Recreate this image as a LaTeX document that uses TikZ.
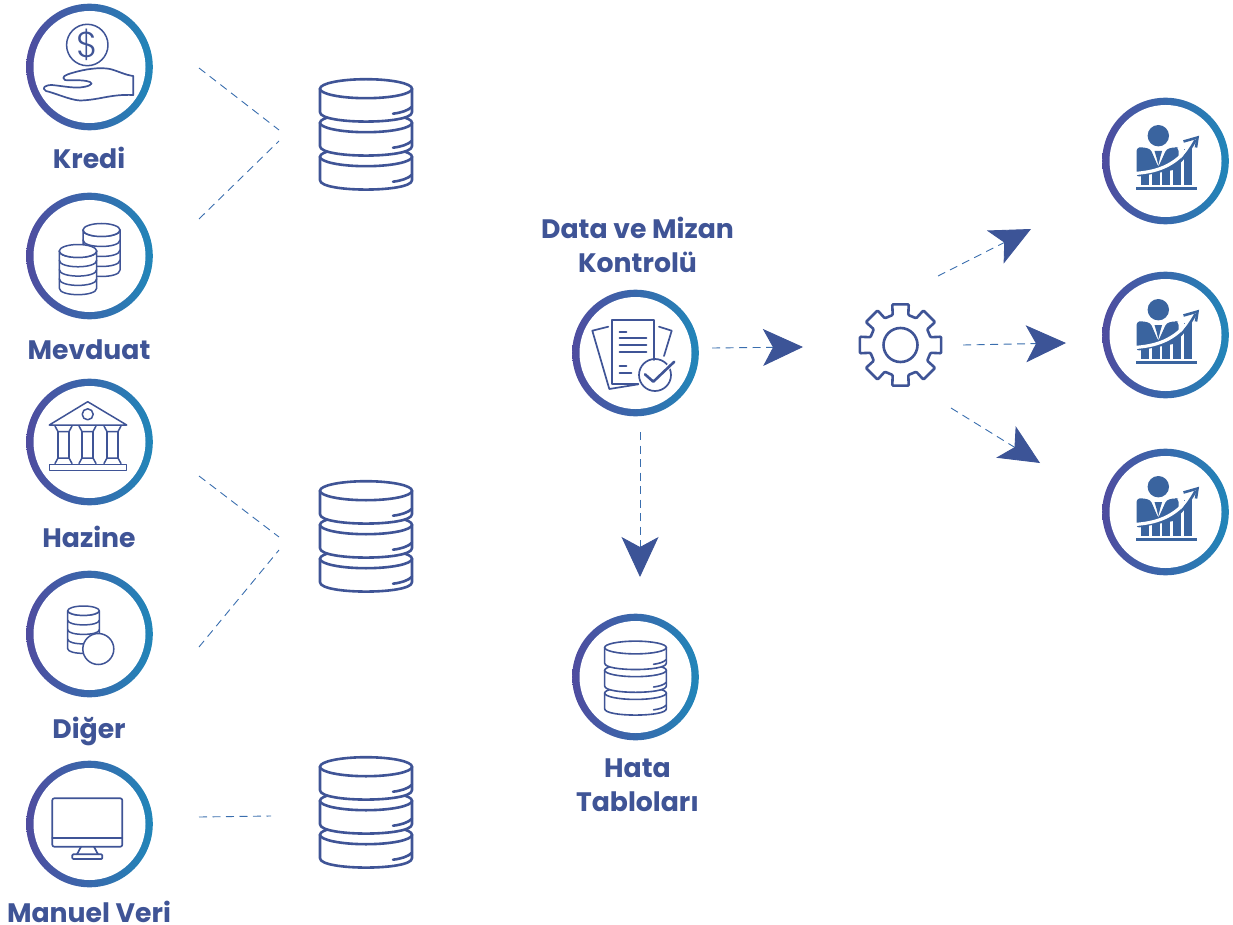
\documentclass[tikz,border=0pt]{standalone}
\usepackage{fontspec}
\setmainfont{Poppins}
\newfontface\dolarfont{Poppins Light}
\usetikzlibrary{arrows.meta, positioning}

\definecolor{ringleft}{HTML}{4F4C9F}
\definecolor{ringright}{HTML}{2186B9}
\definecolor{iconblue}{HTML}{3F5496}
\definecolor{chartblue}{HTML}{3A649F}
\definecolor{dashblue}{HTML}{3A6EAE}
\definecolor{tipblue}{HTML}{3C5497}

\newcommand{\dbdisc}[1]{
	\path[draw=iconblue, fill=white, line join=round]
		(-46,#1) -- (-46,{#1+23.5}) .. controls (-46,{#1+36}) and (46,{#1+36}) .. (46,{#1+23.5}) -- (46,#1) -- cycle;
	\path[draw=iconblue, fill=white] (0,#1) ellipse [x radius=46, y radius=9.5];
	\path[draw=iconblue, line cap=round] (27,{#1+25}) .. controls (35,{#1+24}) and (42,{#1+22}) .. (46,{#1+18});
}

\tikzset{
	ring/.style={circle, inner sep=0pt, minimum size=126.6pt, left color=ringleft, right color=ringright,
		path picture={\fill[white] (path picture bounding box.center) circle (56);}},
	title/.style={font=\fontsize{26.7}{34}\selectfont\bfseries, text=iconblue, align=center, inner sep=0pt},
	iconline/.style={draw=iconblue, line width=1.5pt, line join=round, line cap=round},
	feed/.style={draw=dashblue, line width=0.9pt, dash pattern=on 8pt off 5.5pt},
	flow/.style={feed, -{Stealth[length=40pt, width=37pt, inset=10pt, color=tipblue]}},
	pics/dbstack/.style={code={
		\dbdisc{68}
		\dbdisc{34}
		\dbdisc{0}
	}},
	pics/chart/.style={code={
		\fill[chartblue] (-7.2,-25.3) circle (10.7);
		\fill[chartblue, rounded corners=3pt] (-29,16) -- (-29,-13) -- (-24,-14) -- (-15,-12) -- (-7.2,6) -- (1,-12) -- (10,-14) -- (13,-13) -- (13,8) -- cycle;
		\fill[white] (-14.5,-13) -- (0.5,-13) -- (-7.2,5) -- cycle;
		\fill[chartblue] (-11,-10) -- (-3.4,-10) -- (-5.2,-4) -- (-7.2,4) -- (-9.2,-4) -- cycle;
		\fill[chartblue] (-25,13) rectangle (-17,24);
		\fill[chartblue] (-14,11) rectangle (-6,24);
		\fill[chartblue] (-3.5,6) rectangle (4.5,24);
		\fill[chartblue] (7,-4) rectangle (15,24);
		\fill[chartblue] (18,-12) rectangle (26,24);
		\fill[chartblue] (-29.5,26) rectangle (31.5,28.7);
		\draw[white, line width=3.2pt] (-31,12.5) .. controls (-12,11) and (10,7) .. (27,-19);
		\draw[chartblue, line width=2.6pt] (14,1) .. controls (20,-5) and (25,-12) .. (30,-21);
		\draw[chartblue, line width=2.6pt, line join=miter] (18,-19.5) -- (32,-23.5) -- (30.5,-13.5);
	}},
	pics/gear/.style={code={
		\draw[iconline, line width=2.6pt, rounded corners=1pt] (-14.5:31) -- (-11.5:41.5) -- (11.5:41.5) -- (14.5:31)
			\foreach \a in {45,90,...,315} { -- (\a-14.5:31) -- (\a-11.5:41.5) -- (\a+11.5:41.5) -- (\a+14.5:31) } -- cycle;
		\draw[iconline, line width=2.6pt] (0,0) circle (17);
	}}
}

\newcommand{\coinstack}[6]{
	\path[iconline, fill=white] ({#1-#3},#2) -- ({#1-#3},{#2+#5*#6}) .. controls ({#1-#3},{#2+#5*#6+1.33*#4}) and ({#1+#3},{#2+#5*#6+1.33*#4}) .. ({#1+#3},{#2+#5*#6}) -- ({#1+#3},#2) -- cycle;
	\foreach \k in {1,...,#5}
		\draw[iconline] ({#1-#3},{#2+(\k-1)*#6}) .. controls ({#1-#3},{#2+(\k-1)*#6+1.33*#4}) and ({#1+#3},{#2+(\k-1)*#6+1.33*#4}) .. ({#1+#3},{#2+(\k-1)*#6});
	\path[iconline, fill=white] (#1,#2) ellipse [x radius=#3, y radius=#4];
}

\begin{document}
\begin{tikzpicture}[x=1pt, y=-1pt]
	\useasboundingbox (0,0) rectangle (1233,925);

	\node[ring]		(kredi) at (89.5,67) {};
	\node[ring]		(mevduat) at (89.5,256) {};
	\node[ring]		(hazine) at (89.5,442) {};
	\node[ring]		(diger) at (89.5,634) {};
	\node[ring]		(manuel) at (89.5,824) {};
	\node[ring]		(kontrol) at (635.5,353) {};
	\node[ring]		(hata) at (635.5,677) {};
	\node[ring]		(rapor1) at (1165.5,161) {};
	\node[ring]		(rapor2) at (1165.5,335) {};
	\node[ring]		(rapor3) at (1165.5,512) {};

	\node[title]	(kredilabel) at (89,158) {Kredi};
	\node[title]	(mevduatlabel) at (89,349.5) {Mevduat};
	\node[title]	(hazinelabel) at (89,537) {Hazine};
	\node[title]	(digerlabel) at (89,731) {Diğer};
	\node[title]	(manuellabel) at (89,912) {Manuel Veri};
	\node[title]	(kontrollabel) at (637.5,245) {Data ve Mizan\\Kontrolü};
	\node[title]	(hatalabel) at (637.5,785) {Hata\\Tabloları};

	\pic[line width=2.6pt] at (366,88.7) {dbstack};
	\pic[line width=2.6pt] at (366,490.7) {dbstack};
	\pic[line width=2.6pt] at (366,766.7) {dbstack};
	\begin{scope}[shift={(635.5,647.5)}, scale=0.67, line width=1.6pt]
		\dbdisc{68}
		\dbdisc{34}
		\dbdisc{0}
	\end{scope}

	\pic at (1165.5,161) {chart};
	\pic at (1165.5,335) {chart};
	\pic at (1165.5,512) {chart};
	\pic at (900.5,345) {gear};

	% kredi
	\draw[iconline] (87.3,45) circle (20.7);
	\node[font=\dolarfont\fontsize{36}{36}\selectfont, text=iconblue, inner sep=0pt] (dolar) at (87.3,45) {\$};
	\draw[iconline, line width=1.7pt] (133.3,76) -- (133.3,95) .. controls (110,94) and (100,100) .. (80,100.5) .. controls (70,100) and (55,93) .. (46,91) .. controls (41,88) and (45,85) .. (52,85) .. controls (62,86) and (72,88) .. (80,87.5) .. controls (87,87) and (95,84) .. (90,82) .. controls (82,79) and (70,81) .. (65,80) .. controls (61,77) and (65,75) .. (72,73) .. controls (85,69) and (100,67) .. (110,69) .. controls (118,71) and (125,75) .. cycle;

	% mevduat
	\coinstack{101.5}{230}{18.5}{6.5}{4}{10}
	\coinstack{78}{251}{18.7}{6.5}{4}{9.3}

	% hazine
	\draw[iconline] (87.7,401.7) -- (49.3,425) -- (126.7,425) -- cycle;
	\draw[iconline] (87.7,414.3) circle (5.5);
	\draw[iconline] (49.3,464.3) rectangle (126.7,470.7);
	\draw[iconline] (55,426) -- (58,431.7) -- (69,431.7) -- (72,426);
	\draw[iconline] (79,426) -- (82,431.7) -- (93,431.7) -- (96,426);
	\draw[iconline] (104,426) -- (107,431.7) -- (118,431.7) -- (121,426);
	\draw[iconline] (58,431.7) -- (58,458) (69,431.7) -- (69,458);
	\draw[iconline] (82,431.7) -- (82,458) (93,431.7) -- (93,458);
	\draw[iconline] (107,431.7) -- (107,458) (118,431.7) -- (118,458);
	\draw[iconline] (55,463.5) -- (58,458) -- (69,458) -- (72,463.5);
	\draw[iconline] (79,463.5) -- (82,458) -- (93,458) -- (96,463.5);
	\draw[iconline] (104,463.5) -- (107,458) -- (118,458) -- (121,463.5);

	% diger
	\coinstack{83.5}{610.7}{15.8}{4.7}{4}{9.5}
	\path[iconline, fill=white] (98.3,649) circle (15.5);

	% manuel
	\draw[iconline, line width=1.7pt, rounded corners=2pt] (52.3,798.3) rectangle (122.3,846.7);
	\draw[iconline, line width=1.7pt] (52.3,838.3) -- (122.3,838.3);
	\draw[iconline, line width=1.7pt] (81,846.7) -- (77,854.3) (94,846.7) -- (98,854.3);
	\draw[iconline, line width=1.7pt, rounded corners=1pt] (72.3,854.3) rectangle (102.3,859);

	% kontrol
	\path[iconline, line width=1.7pt] (608.3,326.7) -- (592.3,330.7) -- (609.3,389) -- (638.3,384.3);
	\path[iconline, line width=1.7pt] (659,326.7) -- (671.7,330.7) -- (664,356);
	\path[iconline, line width=1.7pt] (654.3,360) -- (654.3,320) -- (612.3,320) -- (612.3,384.3) -- (638.3,384.3);
	\draw[iconline, line width=1.7pt] (619.5,331.7) -- (626.5,331.7) (619.5,338.3) -- (646.5,338.3) (619.5,345) -- (646.5,345) (619.5,351.7) -- (646.5,351.7) (619.5,366) -- (626.5,366) (619.5,372.7) -- (631.5,372.7);
	\path[iconline, line width=1.7pt] (655,375) circle (16);
	\draw[white, line width=5pt] (647,374.3) -- (653.3,381.7) -- (672,363.5);
	\draw[iconline, line width=2.6pt] (645,374.3) -- (653.3,381.7) -- (674.3,361.7);

	\coordinate (sol1a) at (199,68);
	\coordinate (sol1b) at (279,130);
	\coordinate (sol2a) at (199,219);
	\coordinate (sol2b) at (279,141);
	\coordinate (sol3a) at (199,476);
	\coordinate (sol3b) at (279,537);
	\coordinate (sol4a) at (199,647);
	\coordinate (sol4b) at (279,550);
	\coordinate (sol5a) at (199,817);
	\coordinate (sol5b) at (271,816);
	\coordinate (ok1a) at (712,348);
	\coordinate (ok1b) at (803,347);
	\coordinate (ok2a) at (640,432);
	\coordinate (ok2b) at (640,577);
	\coordinate (ok3a) at (938,276);
	\coordinate (ok3b) at (1031,229);
	\coordinate (ok4a) at (963,345);
	\coordinate (ok4b) at (1066,343);
	\coordinate (ok5a) at (951,408);
	\coordinate (ok5b) at (1040,463);

	\path	(sol1a) edge[feed] (sol1b)
			(sol2a) edge[feed] (sol2b)
			(sol3a) edge[feed] (sol3b)
			(sol4a) edge[feed] (sol4b)
			(sol5a) edge[feed] (sol5b)
			(ok1a) edge[flow] (ok1b)
			(ok2a) edge[flow] (ok2b)
			(ok3a) edge[flow] (ok3b)
			(ok4a) edge[flow] (ok4b)
			(ok5a) edge[flow] (ok5b);
\end{tikzpicture}
\end{document}
